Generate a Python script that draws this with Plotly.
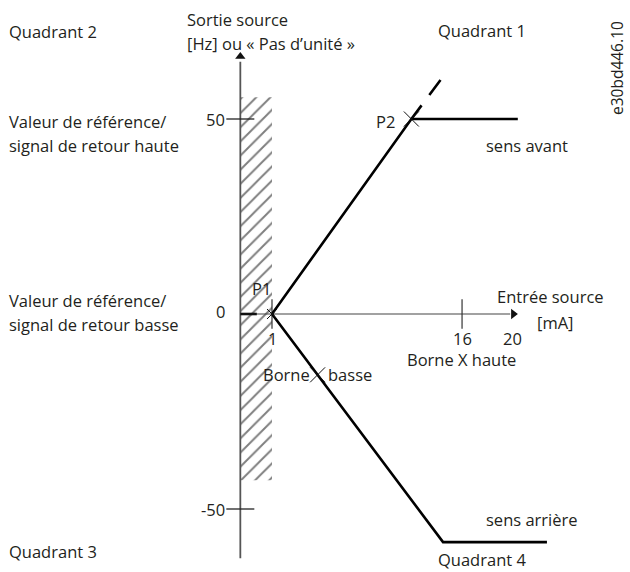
import plotly.graph_objects as go

# ---- data (x in mA, y in Hz / unitless) ----
p1 = (1, 0)
p2 = (12, 50)
forward_x = [1, 12, 20.4]
forward_y = [0, 50, 50]
extension_x = [12, 14.3]
extension_y = [50, 60]
reverse_x = [1, 14.5, 22.7]
reverse_y = [0, -58.5, -58.5]
low_clamp_x = [-1.5, -0.2]
low_clamp_y = [0, 0]
borne_basse_pt = (4.6, -15.6)

y_ticks = [50, 0, -50]
y_tick_labels = ["50", "0", "-50"]
y_tick_marks = [50, -50]
x_ticks = [1, 16, 20]
x_tick_labels = ["1", "16", "20"]
x_tick_marks = [1, 16]

# axis geometry
Y_AXIS_X = -1.5
Y_AXIS_RANGE = (-62.6, 67.2)
X_AXIS_END = 20.4
HATCH_X = (-1.5, 1)
HATCH_Y = (-42.6, 55.6)

W, H = 630, 572
FONT = "Open Sans"
FS = 16.5
TXT = "#231f20"

fig = go.Figure()

# hatched forbidden zone
fig.add_trace(go.Scatter(
    x=[HATCH_X[0], HATCH_X[1], HATCH_X[1], HATCH_X[0], HATCH_X[0]],
    y=[HATCH_Y[0], HATCH_Y[0], HATCH_Y[1], HATCH_Y[1], HATCH_Y[0]],
    mode="lines", line=dict(width=0), fill="toself", fillcolor="rgba(0,0,0,0)",
    fillpattern=dict(shape="/", size=10, solidity=0.2, fgcolor="#000000", bgcolor="rgba(255,255,255,0)"),
    hoverinfo="skip", showlegend=False))

# x axis line
fig.add_trace(go.Scatter(x=[Y_AXIS_X, X_AXIS_END - 0.6], y=[0, 0], mode="lines",
                         line=dict(color="#444444", width=1.2), showlegend=False, hoverinfo="skip"))
# y axis line
fig.add_trace(go.Scatter(x=[Y_AXIS_X, Y_AXIS_X], y=[Y_AXIS_RANGE[0], Y_AXIS_RANGE[1] - 2.5], mode="lines",
                         line=dict(color="#555555", width=1.8), showlegend=False, hoverinfo="skip"))
# arrow heads
fig.add_trace(go.Scatter(x=[Y_AXIS_X], y=[Y_AXIS_RANGE[1] - 1.2], mode="markers",
                         marker=dict(symbol="triangle-up", size=9, color="#111111"),
                         showlegend=False, hoverinfo="skip"))
fig.add_trace(go.Scatter(x=[X_AXIS_END - 0.35], y=[0], mode="markers",
                         marker=dict(symbol="triangle-right", size=9, color="#111111"),
                         showlegend=False, hoverinfo="skip"))

# tick marks
fig.add_trace(go.Scatter(x=[Y_AXIS_X] * len(y_tick_marks), y=y_tick_marks, mode="markers",
                         marker=dict(symbol="line-ew", size=20, line=dict(width=1.3, color="#222222")),
                         showlegend=False, hoverinfo="skip"))
fig.add_trace(go.Scatter(x=x_tick_marks, y=[0] * len(x_tick_marks), mode="markers",
                         marker=dict(symbol="line-ns", size=21, line=dict(width=1.2, color="#333333")),
                         showlegend=False, hoverinfo="skip"))

# clamp at 0 (below P1)
fig.add_trace(go.Scatter(x=low_clamp_x, y=low_clamp_y, mode="lines",
                         line=dict(color="#111111", width=2.6), showlegend=False, hoverinfo="skip"))
# forward and reverse characteristics
fig.add_trace(go.Scatter(x=forward_x, y=forward_y, mode="lines",
                         line=dict(color="#000000", width=2.6), showlegend=False, hoverinfo="skip"))
fig.add_trace(go.Scatter(x=extension_x, y=extension_y, mode="lines",
                         line=dict(color="#000000", width=2.6, dash="17px,13px,19px"),
                         showlegend=False, hoverinfo="skip"))
fig.add_trace(go.Scatter(x=reverse_x, y=reverse_y, mode="lines",
                         line=dict(color="#000000", width=2.6), showlegend=False, hoverinfo="skip"))

# point markers
fig.add_trace(go.Scatter(x=[p2[0]], y=[p2[1]], mode="markers",
                         marker=dict(symbol="x-thin", size=15, line=dict(width=1, color="#111111")),
                         showlegend=False, hoverinfo="skip"))
fig.add_trace(go.Scatter(x=[p1[0]], y=[p1[1]], mode="markers",
                         marker=dict(symbol="x-thin", size=10, line=dict(width=1, color="#111111")),
                         showlegend=False, hoverinfo="skip"))
fig.add_trace(go.Scatter(x=[borne_basse_pt[0]], y=[borne_basse_pt[1]], mode="markers",
                         marker=dict(symbol="x-thin", size=15, line=dict(width=1, color="#111111")),
                         showlegend=False, hoverinfo="skip"))

annotations = []
# y tick labels
for v, lab in zip(y_ticks, y_tick_labels):
    annotations.append(dict(x=Y_AXIS_X, y=v, xref="x", yref="y", text=lab, showarrow=False,
                            xanchor="right", yanchor="middle", xshift=-14, yshift=3 if v == 0 else 0,
                            borderpad=0, font=dict(family=FONT, size=FS, color=TXT)))
# x tick labels
for v, lab in zip(x_ticks, x_tick_labels):
    annotations.append(dict(x=v, y=0, xref="x", yref="y", text=lab, showarrow=False,
                            xanchor="center", yanchor="middle", yshift=-24,
                            borderpad=0, font=dict(family=FONT, size=FS, color=TXT)))


def lab(text, px, py, anchor="left", size=FS, angle=0):
    annotations.append(dict(x=px / W, y=1 - py / H, xref="paper", yref="paper", text=text,
                            showarrow=False, xanchor=anchor, yanchor="middle", textangle=angle,
                            borderpad=0, font=dict(family=FONT, size=size, color=TXT)))


lab("Quadrant 2", 8, 32)
lab("Sortie source", 186, 19)
lab("[Hz] ou « Pas d’unité »", 186, 43)
lab("Quadrant 1", 437, 30)
lab("e30bd446.10", 617, 68, anchor="center", size=15.5, angle=-90)
lab("Valeur de référence/", 8, 121)
lab("signal de retour haute", 8, 145)
lab("P2", 396, 121, anchor="right")
lab("sens avant", 485, 145)
lab("Valeur de référence/", 8, 300)
lab("signal de retour basse", 8, 324)
lab("P1", 251, 288)
lab("Entrée source", 496, 296)
lab("[mA]", 536, 322)
lab("Borne X haute", 462, 359, anchor="center")
lab("Borne", 262, 374)
lab("basse", 327, 374)
lab("sens arrière", 485, 519)
lab("Quadrant 3", 8, 551)
lab("Quadrant 4", 437, 559)

PX_PER_X = 12.67
PX_PER_Y = 3.9
X_AT_LEFT = 1 - 272 / PX_PER_X
X_AT_RIGHT = 1 + (W - 272) / PX_PER_X
Y_AT_TOP = 314 / PX_PER_Y
Y_AT_BOTTOM = -(H - 314) / PX_PER_Y

fig.update_layout(
    width=W, height=H, autosize=False,
    margin=dict(l=0, r=0, t=0, b=0, pad=0),
    paper_bgcolor="white", plot_bgcolor="white",
    xaxis=dict(range=[X_AT_LEFT, X_AT_RIGHT], visible=False, fixedrange=True),
    yaxis=dict(range=[Y_AT_BOTTOM, Y_AT_TOP], visible=False, fixedrange=True),
    annotations=annotations,
    showlegend=False,
)

fig.write_html("out.html", config={"displayModeBar": False},
               post_script="document.body.style.margin='0';")
